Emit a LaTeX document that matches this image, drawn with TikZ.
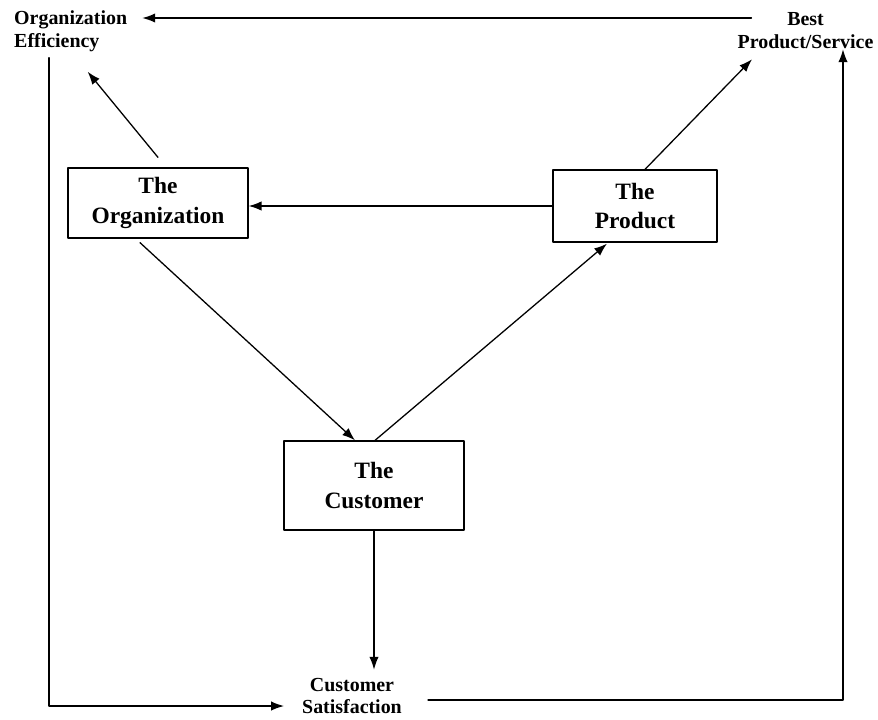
\documentclass[tikz,border=0pt]{standalone}
\usepackage{fontspec}
\setmainfont{Liberation Serif}
\usetikzlibrary{arrows.meta,calc}

\tikzset{
  box/.style={draw,line width=1.1pt,inner sep=0pt,align=center,
    font=\bfseries\fontsize{20}{25}\selectfont},
  lbl/.style={inner sep=0pt,font=\bfseries\fontsize{17}{19.5}\selectfont},
  arr/.style={line width=1.1pt,-{Latex[length=11pt,width=8pt]}}
}

\begin{document}
\begin{tikzpicture}[x=0.03cm,y=-0.03cm,line cap=round,line join=round]
% customer at the centre, organization and product above it

\useasboundingbox (0,0) rectangle (878,719);

% the three boxes
\node[box,minimum width=5.4cm,minimum height=2.1cm] (org) at (158,203) {The\\Organization};
\node[box,minimum width=4.92cm,minimum height=2.16cm] (prod) at (635,206) {The\\Product};
\node[box,minimum width=5.4cm,minimum height=2.67cm] (cust) at (374,485.5) {The\\Customer};

% outcomes
\node[lbl,anchor=west,align=left] (orgeff) at (14,31) {Organization\\Efficiency};
\node[lbl,align=center] (best) at (805.5,31) {Best\\Product/Service};
\node[lbl,align=center] (sat) at (352,696) {Customer\\Satisfaction};

% arrows between the boxes
\draw[arr] (prod.west) -- (prod.west -| org.east);
\draw[arr] ($(org.south)+(-18,4)$) -- ($(cust.north)+(-19,0)$);
\draw[arr] ($(cust.north)+(1,0)$) -- ($(prod.south)+(-28,1)$);

% arrows to the outcomes
\draw[arr] ($(org.north)+(0,-10)$) -- ($(orgeff.south)+(17,20)$);
\draw[arr] ($(prod.north)+(10,0)$) -- ($(best.south)+(-53.5,10)$);
\draw[arr] (cust.south) -- ($(cust.south |- sat.north)+(0,-8)$);

% outer loop
\draw[arr] ($(best.west)+(14,-13)$) -- ($(orgeff.east)+(15,-13)$);
\draw[arr] ($(orgeff.south west)+(35,6)$) |- ($(sat.west)+(-18,10)$);
\draw[arr] ($(sat.east)+(26,4)$) -| ($(best.south)+(37.5,0)$);

\end{tikzpicture}
\end{document}
